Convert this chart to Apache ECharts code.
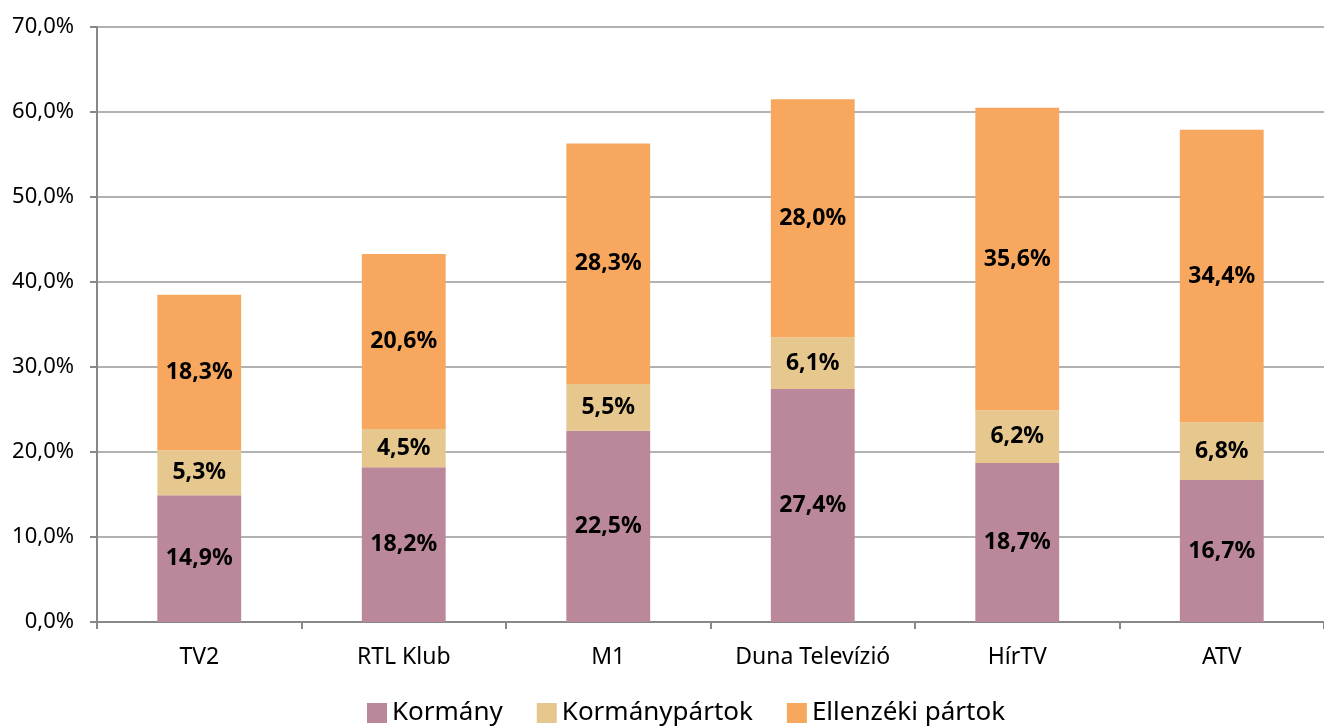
<!DOCTYPE html>
<html>
<head>
<meta charset="utf-8">
<script src="https://cdn.jsdelivr.net/npm/echarts@6/dist/echarts.min.js"></script>
<style>
  html, body { margin: 0; padding: 0; background: #fff; }
  #chart { width: 1324px; height: 727px; }
</style>
</head>
<body>
<div id="chart"></div>
<script>
const categories = ['TV2', 'RTL Klub', 'M1', 'Duna Televízió', 'HírTV', 'ATV']
const kormany = [14.9, 18.2, 22.5, 27.4, 18.7, 16.7]
const kormanyPartok = [5.3, 4.5, 5.5, 6.1, 6.2, 6.8]
const ellenzeki = [18.3, 20.6, 28.3, 28.0, 35.6, 34.4]
const seriesNames = ['Kormány', 'Kormánypártok', 'Ellenzéki pártok']
const colors = ['#BB889B', '#E6C88F', '#F7A85E']

const fmt = v => v.toFixed(1).replace('.', ',') + '%'
const font = '"Noto Sans", sans-serif'

const chart = echarts.init(document.getElementById('chart'))

const makeSeries = (name, data, color) => ({
  name: name,
  type: 'bar',
  stack: 'total',
  data: data,
  barWidth: '41%',
  itemStyle: { color: color },
  label: {
    show: true,
    position: 'inside',
    formatter: p => fmt(p.value),
    color: '#000',
    fontWeight: 'bold',
    fontSize: 23,
    fontFamily: font
  }
})

chart.setOption({
  animation: false,
  color: colors,
  grid: { left: 97, right: 0, top: 27, bottom: 105 },
  legend: {
    top: 695,
    left: 362,
    itemWidth: 20,
    itemHeight: 20,
    itemGap: 34,
    icon: 'rect',
    textStyle: { fontSize: 26, fontFamily: font, color: '#000' },
    data: seriesNames
  },
  xAxis: {
    type: 'category',
    data: categories,
    axisLine: { lineStyle: { color: '#888', width: 2 } },
    axisTick: { show: true, interval: 0, alignWithLabel: false, length: 7, lineStyle: { color: '#888', width: 2 } },
    axisLabel: { interval: 0, fontSize: 23, fontFamily: font, color: '#000', margin: 24 }
  },
  yAxis: {
    type: 'value',
    min: 0,
    max: 70,
    interval: 10,
    axisLine: { show: true, lineStyle: { color: '#888', width: 2 } },
    axisTick: { show: true, length: 7, lineStyle: { color: '#888', width: 2 } },
    axisLabel: { fontSize: 22, fontFamily: font, color: '#000', margin: 23, formatter: v => fmt(v) },
    splitLine: { lineStyle: { color: '#999', width: 1.5 } }
  },
  series: [
    makeSeries(seriesNames[0], kormany, colors[0]),
    makeSeries(seriesNames[1], kormanyPartok, colors[1]),
    makeSeries(seriesNames[2], ellenzeki, colors[2])
  ]
})
</script>
</body>
</html>
